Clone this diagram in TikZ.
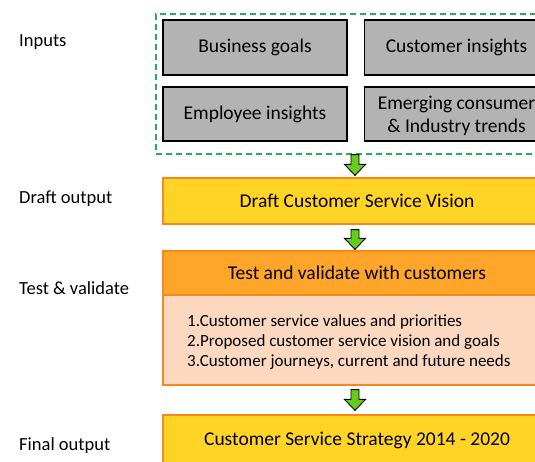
\documentclass[tikz,border=0pt]{standalone}
\usepackage{fontspec}
\setmainfont{Carlito}
\usetikzlibrary{calc}
\definecolor{boxgray}{HTML}{B3B3B3}
\definecolor{dgreen}{HTML}{22B05A}
\definecolor{yel}{HTML}{FFD426}
\definecolor{org}{HTML}{FFA52A}
\definecolor{peach}{HTML}{FBD8BF}
\definecolor{oborder}{HTML}{F9871C}
\definecolor{agreen}{HTML}{66CC1A}
\tikzset{
  graybox/.style={draw=black, line width=1.2pt, fill=boxgray, minimum width=184pt, minimum height=55pt, inner sep=0pt, align=center, font=\fontsize{19.5}{22}\selectfont},
  widebox/.style={draw=oborder, line width=1.2pt, minimum width=388pt, inner sep=0pt, align=center, font=\fontsize{19.5}{22}\selectfont},
  sidelabel/.style={anchor=west, inner sep=0pt, font=\fontsize{18.5}{22}\selectfont},
  garrow/.style={draw=black, line width=0.9pt, fill=agreen, line join=miter}
}
\newcommand{\blockarrow}[2]{%
  \draw[garrow] let \p1=(#1), \p2=(#2) in
    (\x1-4pt,\y1) -- (\x1+4pt,\y1) -- (\x1+4pt,\y2+11pt) -- (\x1+10.5pt,\y2+11pt)
    -- (\x1,\y2) -- (\x1-10.5pt,\y2+11pt) -- (\x1-4pt,\y2+11pt) -- cycle;}
\begin{document}
\begin{tikzpicture}[x=1pt,y=-1pt]
\useasboundingbox (0,0) rectangle (535,462);
\clip (0,0) rectangle (535,462);
% left labels
\node[sidelabel] (l1) at (19,42.5) {Inputs};
\node[sidelabel] (l2) at (19,198.5) {Draft output};
\node[sidelabel] (l3) at (19,288.5) {Test \& validate};
\node[sidelabel] (l4) at (19,445.5) {Final output};
% inputs group
\node[draw=dgreen, dashed, dash pattern=on 6pt off 4pt, line width=1.3pt, minimum width=400pt, minimum height=140pt, inner sep=0pt] (inputs) at (356,84) {};
\node[graybox] (bg) at (255,47.5) {Business goals};
\node[graybox] (ci) at (456.5,47.5) {Customer insights};
\node[graybox, minimum height=54pt] (ei) at (255,114) {Employee insights};
\node[graybox, minimum height=54pt] (et) at (456.5,114) {};
\node[align=center, inner sep=0pt, font=\fontsize{19.5}{23}\selectfont] (ettext) at (456.5,115.5) {Emerging consumer\\\& Industry trends};
% draft
\node[widebox, fill=yel, minimum height=46pt] (draft) at (357,201) {Draft Customer Service Vision};
% test
\node[widebox, fill=org, minimum height=44pt] (test) at (357,273) {Test and validate with customers};
\node[widebox, fill=peach, minimum height=90pt] (body) at (357,340) {};
\node[anchor=west, inner sep=0pt, align=left, font=\fontsize{17}{20}\selectfont] (list) at (187,342) {1.Customer service values and priorities\\2.Proposed customer service vision and goals\\3.Customer journeys, current and future needs};
% final
\node[widebox, fill=yel, minimum height=50pt] (final) at (357,440) {Customer Service Strategy 2014 - 2020};
% arrows
\coordinate (a1s) at ($(inputs.south)+(-1,0)$);
\coordinate (a1e) at ($(draft.north)+(-2,-2)$);
\coordinate (a2s) at ($(draft.south)+(-2,5)$);
\coordinate (a2e) at ($(test.north)+(-2,-1)$);
\coordinate (a3s) at ($(body.south)+(-2,4)$);
\coordinate (a3e) at ($(final.north)+(-2,-4)$);
\blockarrow{a1s}{a1e}
\blockarrow{a2s}{a2e}
\blockarrow{a3s}{a3e}
\end{tikzpicture}
\end{document}
